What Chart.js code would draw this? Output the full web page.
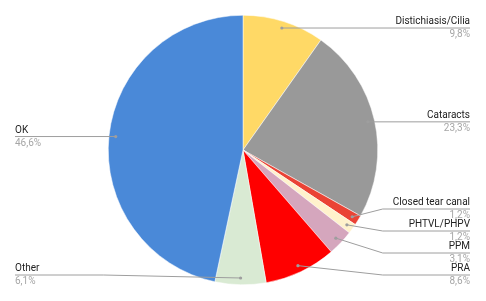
<!DOCTYPE html>
<html>
<head>
<meta charset="utf-8">
<script src="https://cdn.jsdelivr.net/npm/chart.js@4"></script>
<style>
  html, body { margin: 0; padding: 0; background: #fff; }
  #wrap { width: 486px; height: 301px; }
</style>
</head>
<body>
<div id="wrap"><canvas id="grafico" width="486" height="301"></canvas></div>
<script>
// datos del gráfico (en sentido horario desde arriba)
const categorias = ['Distichiasis/Cilia', 'Cataracts', 'Closed tear canal', 'PHTVL/PHPV', 'PPM', 'PRA', 'Other', 'OK'];
const porcentajes = [9.8, 23.3, 1.2, 1.2, 3.1, 8.6, 6.1, 46.6];
const etiquetasPct = ['9,8%', '23,3%', '1,2%', '1,2%', '3,1%', '8,6%', '6,1%', '46,6%'];
const colores = ['#ffd966', '#999999', '#ea4335', '#fff2cc', '#d5a6bd', '#ff0000', '#d9ead3', '#4a89d8'];

// etiquetas con líneas guía, al estilo de la hoja de cálculo
const etiquetasGuia = {
  id: 'etiquetasGuia',
  afterDatasetsDraw(chart) {
    const ctx = chart.ctx;
    const meta = chart.getDatasetMeta(0);
    const W = chart.width;
    const items = meta.data.map((arc, i) => {
      const mid = (arc.startAngle + arc.endAngle) / 2;
      const r = arc.outerRadius * 0.95;
      const ax = arc.x + Math.cos(mid) * r;
      const ay = arc.y + Math.sin(mid) * r;
      return { i, ax, ay, y: ay, cx: arc.x, R: arc.outerRadius, lado: Math.cos(mid) >= 0 ? 'der' : 'izq' };
    });

    const gap = 22, maxY = 275;
    ['der', 'izq'].forEach(lado => {
      const lista = items.filter(it => it.lado === lado).sort((a, b) => a.ay - b.ay);
      // de arriba hacia abajo con separación mínima
      let prev = -Infinity;
      lista.forEach(it => { it.y = Math.max(it.ay, prev + gap); prev = it.y; });
      // si se sale por abajo, subir hacia arriba
      let lim = maxY;
      for (let k = lista.length - 1; k >= 0; k--) {
        if (lista[k].y > lim) lista[k].y = lim;
        lim = lista[k].y - gap;
      }
    });

    ctx.save();
    items.forEach(it => {
      const der = it.lado === 'der';
      const borde = der ? W - 16 : 15;
      const codoX = der ? it.cx + it.R + 5 : it.cx - it.R - 5;
      ctx.strokeStyle = '#9e9e9e';
      ctx.lineWidth = 1;
      ctx.beginPath();
      ctx.moveTo(it.ax, it.ay);
      if (Math.abs(it.y - it.ay) > 1.5) ctx.lineTo(codoX, it.y);
      else it.y = it.ay;
      ctx.lineTo(borde, it.y);
      ctx.stroke();
      ctx.fillStyle = '#9e9e9e';
      ctx.beginPath();
      ctx.arc(it.ax, it.ay, 1.6, 0, Math.PI * 2);
      ctx.fill();

      ctx.textAlign = der ? 'right' : 'left';
      ctx.textBaseline = 'middle';
      ctx.font = '10px Roboto';
      ctx.fillStyle = '#222222';
      ctx.fillText(categorias[it.i], borde, it.y - 6.5);
      ctx.fillStyle = '#a6a6a6';
      ctx.fillText(etiquetasPct[it.i], borde, it.y + 6.8);
    });
    ctx.restore();
  }
};

new Chart(document.getElementById('grafico'), {
  type: 'pie',
  data: {
    labels: categorias,
    datasets: [{
      data: porcentajes,
      backgroundColor: colores,
      borderColor: '#ffffff',
      borderWidth: 0.5,
      hoverOffset: 0,
      offset: 0
    }]
  },
  options: {
    responsive: false,
    animation: false,
    layout: { padding: { left: 108, right: 108, top: 15, bottom: 16 } },
    plugins: { legend: { display: false }, tooltip: { enabled: false } }
  },
  plugins: [etiquetasGuia]
});
</script>
</body>
</html>
